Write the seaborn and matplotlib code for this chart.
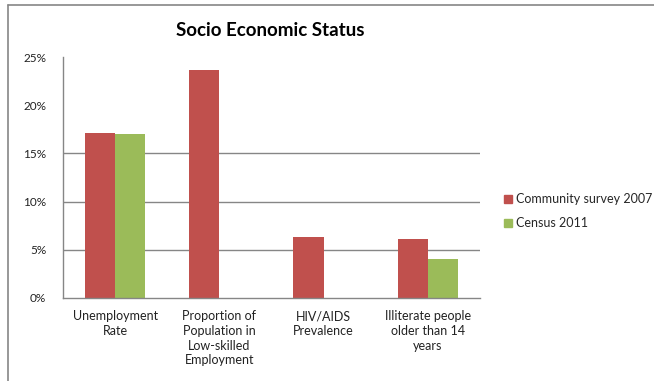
import numpy as np
import pandas as pd
import matplotlib
matplotlib.use("Agg")
import matplotlib.pyplot as plt
import seaborn as sns
from matplotlib.ticker import PercentFormatter
from matplotlib.lines import Line2D

categories = ["Unemployment\nRate",
              "Proportion of\nPopulation in\nLow-skilled\nEmployment",
              "HIV/AIDS\nPrevalence",
              "Illiterate people\nolder than 14\nyears"]
series_names = ["Community survey 2007", "Census 2011"]
survey_2007 = [17.1, 23.7, 6.3, 6.1]
census_2011 = [17.0, np.nan, np.nan, 4.0]
y_ticks = [0, 5, 10, 15, 20, 25]
colors = ["#C0504D", "#9BBB59"]

df = pd.DataFrame({
    "category": categories * 2,
    "series": [series_names[0]] * 4 + [series_names[1]] * 4,
    "value": survey_2007 + census_2011,
})

sns.set_theme(style="white")
plt.rcParams["font.family"] = ["Lato", "DejaVu Sans"]

fig = plt.figure(figsize=(6.54, 3.81), dpi=100)
ax = fig.add_axes([63/654, 1-298/381, (480-63)/654, (298-57)/381])

sns.barplot(data=df, x="category", y="value", hue="series",
            palette=colors, width=0.58, ax=ax, legend=False,
            saturation=1, errorbar=None, linewidth=0)

ax.set_ylim(0, 25)
ax.set_xlim(-0.5, 3.5)
ax.set_yticks(y_ticks)
ax.yaxis.set_major_formatter(PercentFormatter(decimals=0))
ax.set_xlabel("")
ax.set_ylabel("")
ax.tick_params(axis="y", length=0, labelsize=8.5, colors="#222222", pad=12)
ax.tick_params(axis="x", length=0, labelsize=9, colors="#222222", pad=9)
for lab in ax.get_xticklabels():
    lab.set_linespacing(1.25)
    lab.set_verticalalignment("top")

for v in [5, 10, 15]:
    ax.axhline(v, color="#868686", lw=1.0, zorder=0)
for s in ["top", "right"]:
    ax.spines[s].set_visible(False)
for s in ["left", "bottom"]:
    ax.spines[s].set_color("#868686")
    ax.spines[s].set_linewidth(1.0)

fig.text(270/654, 1-30/381, "Socio Economic Status", ha="center", va="center",
         fontsize=13.5, fontweight="bold", color="black")

handles = [Line2D([0], [0], marker="s", linestyle="none", markersize=6,
                  markerfacecolor=c, markeredgecolor=c) for c in colors]
fig.legend(handles, series_names, loc="center left",
           bbox_to_anchor=(498/654, 1-211/381), frameon=False,
           fontsize=9, handlelength=0.6, handletextpad=0.35,
           labelspacing=0.95, borderpad=0)

# outer chart frame (top and left edges visible)
fig.add_artist(Line2D([8/654, 1], [1-5/381, 1-5/381], color="#868686", lw=1.2,
                      transform=fig.transFigure))
fig.add_artist(Line2D([8/654, 8/654], [0, 1-5/381], color="#868686", lw=1.2,
                      transform=fig.transFigure))

fig.savefig("out.png", dpi=100)
